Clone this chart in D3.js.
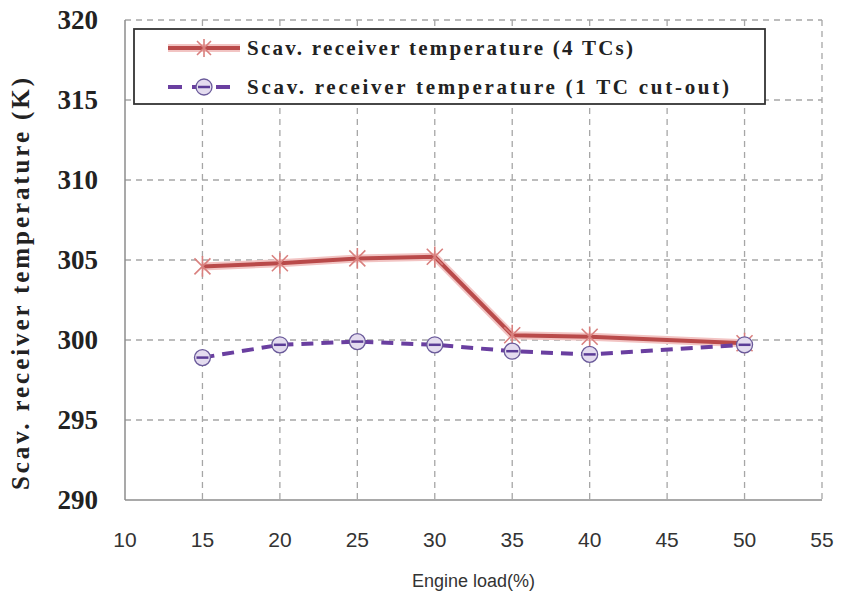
<!DOCTYPE html>
<html>
<head>
<meta charset="utf-8">
<script src="https://cdn.jsdelivr.net/npm/d3@7"></script>
<style>
body { margin: 0; background: #fff; }
.grid line { stroke: #a6a6a6; stroke-width: 1.3; stroke-dasharray: 6,5; }
.ylab { font-family: "Liberation Serif", "Times New Roman", serif; font-weight: bold; font-size: 27px; fill: #222; }
.xlab { font-family: "Liberation Sans Narrow", "Liberation Sans", sans-serif; font-size: 21px; fill: #333; }
.leg { font-family: "Liberation Serif", "Times New Roman", serif; font-weight: bold; font-size: 21px; fill: #222; }
</style>
</head>
<body>
<script>
var width = 846,
    height = 605;

var loads = [15, 20, 25, 30, 35, 40, 50];
var tempFour = [304.6, 304.8, 305.1, 305.2, 300.3, 300.2, 299.8];
var tempCut = [298.9, 299.7, 299.9, 299.7, 299.3, 299.1, 299.7];
var xTicks = [10, 15, 20, 25, 30, 35, 40, 45, 50, 55];
var yTicks = [290, 295, 300, 305, 310, 315, 320];
var legendNames = ["Scav. receiver temperature (4 TCs)", "Scav. receiver temperature (1 TC cut-out)"];
var legendWidths = [386, 482];

var x = d3.scaleLinear().domain([10, 55]).range([125, 822]);
var y = d3.scaleLinear().domain([290, 320]).range([500, 20]);

var svg = d3.select("body").append("svg")
    .attr("width", width)
    .attr("height", height);

// dashed grid
var grid = svg.append("g").attr("class", "grid");
grid.selectAll(".vg")
    .data(xTicks.slice(1))
  .enter().append("line")
    .attr("x1", x).attr("x2", x)
    .attr("y1", y(320)).attr("y2", y(290));
grid.selectAll(".hg")
    .data(yTicks.slice(1))
  .enter().append("line")
    .attr("x1", x(10)).attr("x2", x(55))
    .attr("y1", y).attr("y2", y);

// axis lines
svg.append("line")
    .attr("x1", x(10)).attr("x2", x(10))
    .attr("y1", y(320)).attr("y2", y(290))
    .attr("stroke", "#8c8c8c").attr("stroke-width", 1.5);
svg.append("line")
    .attr("x1", x(10)).attr("x2", x(55))
    .attr("y1", y(290)).attr("y2", y(290))
    .attr("stroke", "#8c8c8c").attr("stroke-width", 1.5);

// tick labels
svg.selectAll(".ylab")
    .data(yTicks)
  .enter().append("text")
    .attr("class", "ylab")
    .attr("x", 98)
    .attr("y", function(d) { return y(d) + 9; })
    .attr("text-anchor", "end")
    .text(function(d) { return d; });

svg.selectAll(".xlab")
    .data(xTicks)
  .enter().append("text")
    .attr("class", "xlab")
    .attr("x", x)
    .attr("y", 547)
    .attr("text-anchor", "middle")
    .text(function(d) { return d; });

svg.append("text")
    .attr("x", x(32.5))
    .attr("y", 587)
    .attr("text-anchor", "middle")
    .style("font-family", "\"Liberation Sans Narrow\", \"Liberation Sans\", sans-serif")
    .style("font-size", "18px")
    .style("fill", "#333")
    .text("Engine load(%)");

svg.append("text")
    .attr("transform", "translate(29,284) rotate(-90)")
    .attr("text-anchor", "middle")
    .attr("textLength", 412)
    .attr("lengthAdjust", "spacing")
    .style("font-family", "\"Liberation Serif\", \"Times New Roman\", serif")
    .style("font-weight", "bold")
    .style("font-size", "25px")
    .style("fill", "#222")
    .text("Scav. receiver temperature  (K)");

var line = d3.line()
    .x(function(d) { return x(d[0]); })
    .y(function(d) { return y(d[1]); });

var redPts = d3.zip(loads, tempFour);
var purPts = d3.zip(loads, tempCut);

function starMarker(g, cx, cy, s) {
  g.append("path")
      .attr("d", "M" + (cx - s) + "," + (cy - s) + "L" + (cx + s) + "," + (cy + s) +
                 "M" + (cx - s) + "," + (cy + s) + "L" + (cx + s) + "," + (cy - s) +
                 "M" + cx + "," + (cy - s * 1.3) + "L" + cx + "," + (cy + s * 1.3))
      .attr("stroke", "#d9807e").attr("stroke-width", 1.6).attr("fill", "none");
}

function circleMarker(g, cx, cy, r) {
  g.append("circle")
      .attr("cx", cx).attr("cy", cy).attr("r", r)
      .attr("fill", "#e4dcef").attr("stroke", "#6a5a9a").attr("stroke-width", 1.3);
  g.append("line")
      .attr("x1", cx - r + 2).attr("x2", cx + r - 2)
      .attr("y1", cy).attr("y2", cy)
      .attr("stroke", "#5b3c96").attr("stroke-width", 2.5);
}

// red series
svg.append("path")
    .datum(redPts)
    .attr("d", line)
    .attr("fill", "none")
    .attr("stroke", "#f2c4c3")
    .attr("stroke-width", 8);
svg.append("path")
    .datum(redPts)
    .attr("d", line)
    .attr("fill", "none")
    .attr("stroke", "#b94a4a")
    .attr("stroke-width", 4);
var rm = svg.append("g");
redPts.forEach(function(p) { starMarker(rm, x(p[0]), y(p[1]), 8); });

// purple series
svg.append("path")
    .datum(purPts)
    .attr("d", line)
    .attr("fill", "none")
    .attr("stroke", "#6a3fa0")
    .attr("stroke-width", 4)
    .attr("stroke-dasharray", "12,8");
var pm = svg.append("g");
purPts.forEach(function(p) { circleMarker(pm, x(p[0]), y(p[1]), 8); });

// legend
var leg = svg.append("g");
leg.append("rect")
    .attr("x", 134).attr("y", 29)
    .attr("width", 631).attr("height", 75)
    .attr("fill", "#fff")
    .attr("stroke", "#333").attr("stroke-width", 1.8);

leg.append("line")
    .attr("x1", 168).attr("x2", 240).attr("y1", 48).attr("y2", 48)
    .attr("stroke", "#f2c4c3").attr("stroke-width", 8);
leg.append("line")
    .attr("x1", 168).attr("x2", 240).attr("y1", 48).attr("y2", 48)
    .attr("stroke", "#b94a4a").attr("stroke-width", 4);
starMarker(leg, 204, 48, 7);

leg.append("line")
    .attr("x1", 168).attr("x2", 240).attr("y1", 87).attr("y2", 87)
    .attr("stroke", "#6a3fa0").attr("stroke-width", 4)
    .attr("stroke-dasharray", "14,10");
circleMarker(leg, 204, 87, 8);

leg.selectAll(".leg")
    .data(legendNames)
  .enter().append("text")
    .attr("class", "leg")
    .attr("x", 247)
    .attr("y", function(d, i) { return 55 + i * 39; })
    .attr("textLength", function(d, i) { return legendWidths[i]; })
    .attr("lengthAdjust", "spacing")
    .text(function(d) { return d; });
</script>
</body>
</html>
